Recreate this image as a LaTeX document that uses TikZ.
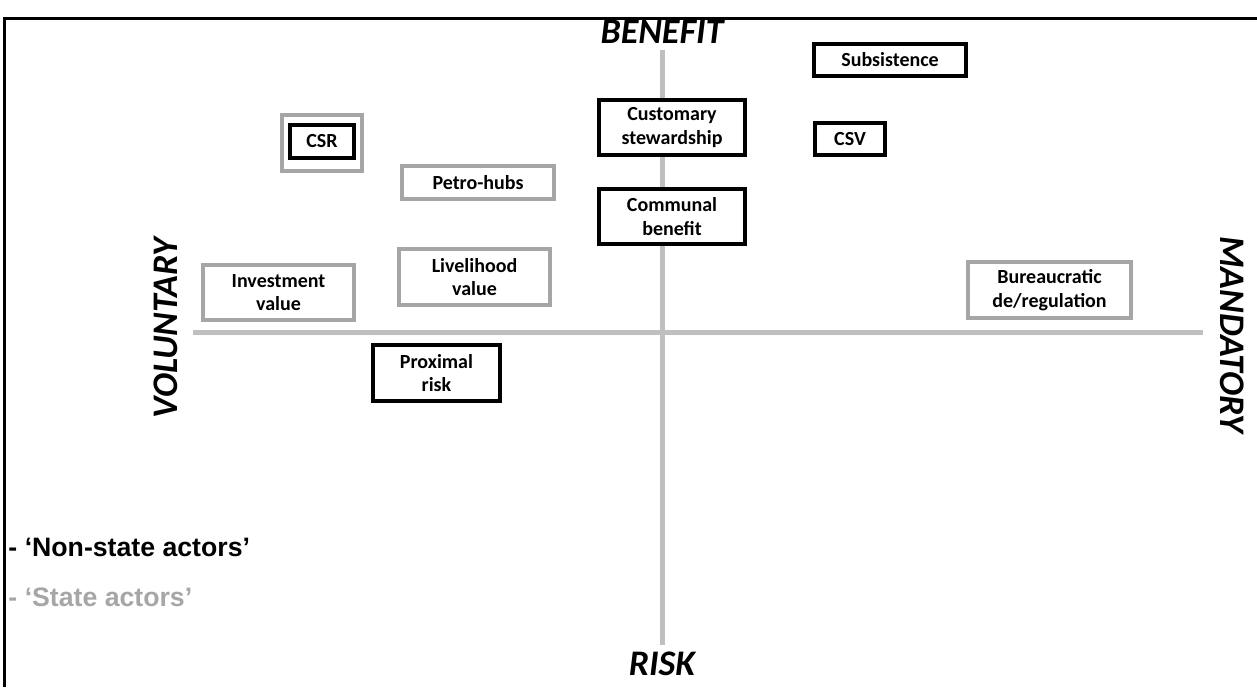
\documentclass[tikz,border=0pt]{standalone}
\usepackage{fontspec}
\setmainfont{Carlito}
\newfontfamily\legendfont{Liberation Sans}

\definecolor{stategray}{RGB}{166,166,166}
\definecolor{axisgray}{RGB}{191,191,191}

\tikzset{every picture/.style={line width=0.75pt}}
\tikzset{
  actorbox/.style={draw, line width=3pt, fill=white, align=center, inner sep=0pt,
    font=\bfseries\fontsize{15}{17.5}\selectfont},
  nonstate/.style={actorbox, draw=black},
  state/.style={actorbox, draw=stategray},
  axislabel/.style={inner sep=0pt, font=\bfseries\itshape\fontsize{27}{30}\selectfont},
  axisline/.style={draw=axisgray, line width=3.75pt},
  legendtext/.style={anchor=west, inner sep=0pt, font=\legendfont\bfseries\fontsize{20}{23}\selectfont}
}

\begin{document}
\begin{tikzpicture}[x=0.75pt,y=0.75pt,yscale=-1,xscale=1]

\useasboundingbox (0,0) rectangle (1257,687);

%Straight Lines (frame)
\draw [line width=2.25pt]  (4,687) -- (4,18) -- (1257,18) ;

%Axis end points
\coordinate (bentop) at (662,50);
\coordinate (riskbot) at (662,645);
\coordinate (volleft) at (193,332);
\coordinate (manright) at (1203,332);

%Straight Lines
\draw [axisline]  (bentop) -- (riskbot) ;
%Straight Lines
\draw [axisline]  (volleft) -- (manright) ;

% Text Node
\node [axislabel] (benefit) at (662,32) {BENEFIT};
% Text Node
\node [axislabel] (risk) at (662,664) {RISK};
% Text Node
\node [axislabel, rotate=90] (voluntary) at (166,328) {VOLUNTARY};
% Text Node
\node [axislabel, rotate=-90] (mandatory) at (1232,335) {MANDATORY};

%Shape: Rectangle
\node [nonstate, minimum width=114pt, minimum height=24pt] (subsistence) at (890,60) {Subsistence};
%Shape: Rectangle
\node [nonstate, minimum width=109.5pt, minimum height=41.25pt] (customary) at (672,127.5) {Customary\\stewardship};
%Shape: Rectangle
\node [nonstate, minimum width=52.5pt, minimum height=24pt] (csv) at (850,139) {CSV};
%Shape: Rectangle
\node [nonstate, minimum width=109.5pt, minimum height=41.25pt] (communal) at (672,216.5) {Communal\\benefit};

%Shape: Rectangle
\node [state, minimum width=60pt, minimum height=42pt] (csrouter) at (322,143) {};
%Shape: Rectangle
\node [nonstate, minimum width=48pt, minimum height=24.75pt] (csr) at (322,141.5) {CSR};
%Shape: Rectangle
\node [state, minimum width=114pt, minimum height=24.75pt] (petrohubs) at (478,182.5) {Petro-hubs};
%Shape: Rectangle
\node [state, minimum width=113.25pt, minimum height=42pt] (livelihood) at (474.5,277) {Livelihood\\value};
%Shape: Rectangle
\node [state, minimum width=113.25pt, minimum height=41.25pt] (investment) at (278.5,292.5) {Investment\\value};
%Shape: Rectangle
\node [nonstate, minimum width=95.25pt, minimum height=42pt] (proximal) at (436.5,373) {Proximal\\risk};
%Shape: Rectangle
\node [state, minimum width=122.25pt, minimum height=42pt] (bureaucratic) at (1049.5,290) {Bureaucratic\\de/regulation};

% Text Node
\node [legendtext] (nonstatekey) at (8,547) {- ‘Non-state actors’};
% Text Node
\node [legendtext, text=stategray] (statekey) at (8,597) {- ‘State actors’};

\end{tikzpicture}
\end{document}
